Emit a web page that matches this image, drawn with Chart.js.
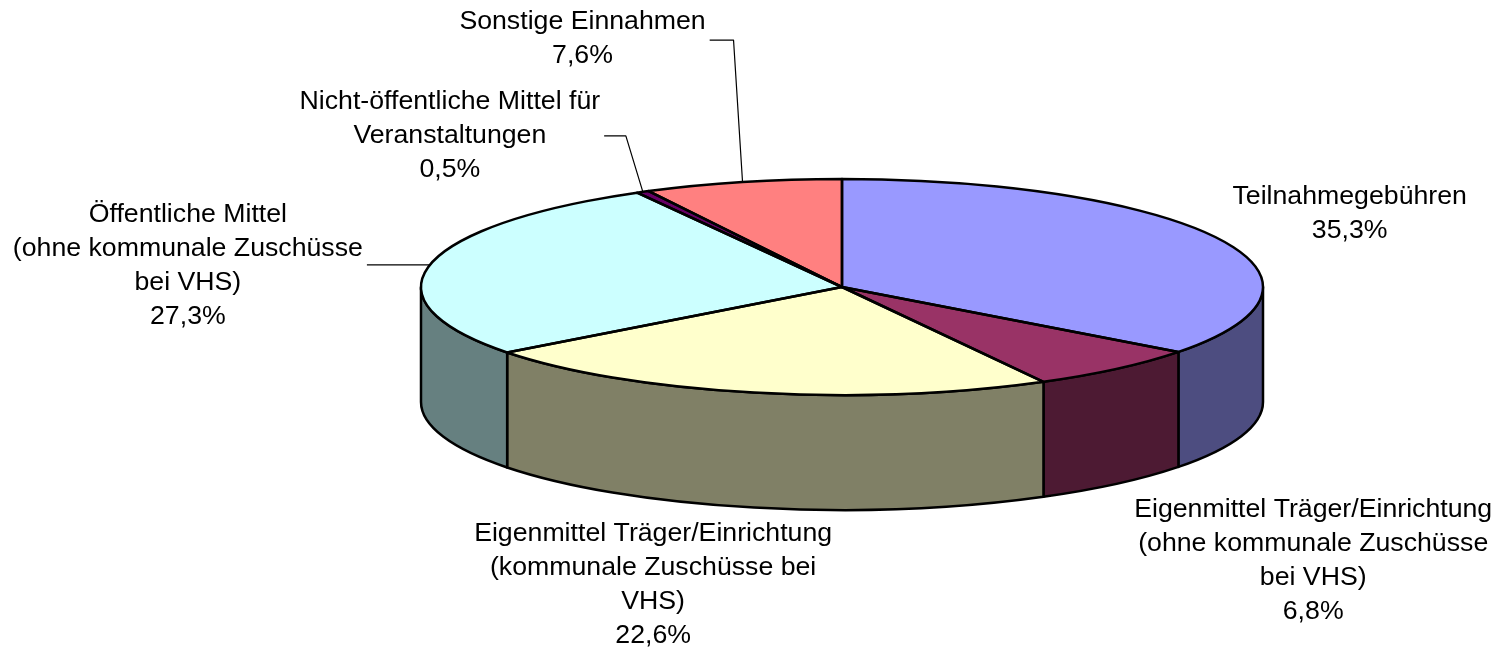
<!DOCTYPE html>
<html>
<head>
<meta charset="utf-8">
<script src="https://cdn.jsdelivr.net/npm/chart.js@4.4.1/dist/chart.umd.min.js"></script>
<style>
  html, body { margin: 0; padding: 0; background: #fff; }
  #wrap { width: 1496px; height: 649px; }
</style>
</head>
<body>
<div id="wrap"><canvas id="chart"></canvas></div>
<script>
const categories = [
  ['Teilnahmegebühren'],
  ['Eigenmittel Träger/Einrichtung', '(ohne kommunale Zuschüsse', 'bei VHS)'],
  ['Eigenmittel Träger/Einrichtung', '(kommunale Zuschüsse bei', 'VHS)'],
  ['Öffentliche Mittel', '(ohne kommunale Zuschüsse', 'bei VHS)'],
  ['Nicht-öffentliche Mittel für', 'Veranstaltungen'],
  ['Sonstige Einnahmen']
];
const shares = [35.3, 6.8, 22.6, 27.3, 0.5, 7.6];
const topColors = ['#9999FF', '#993366', '#FFFFCC', '#CCFFFF', '#660066', '#FF8080'];
const sideColors = ['#4D4D80', '#4D1A33', '#808066', '#668080', '#330033', '#804040'];

// 3d look: top face squashed, side wall depth in px
const tilt = 108 / 421;
const depth = 115;

// label placement relative to the slice edge point at mid angle
const labelLayout = [
  { dx: 131, dy: -25 },
  { dx: 196, dy: 192 },
  { dx: -101, dy: 192 },
  { dx: -242, dy: 1, leader: { ex: -4, ey: 0 } },
  { dx: -193, dy: -56, leader: { ex: -17, ey: -56 } },
  { dx: -160, dy: -143, leader: { ex: -9, ey: -142 } }
];

const fmt = v => v.toFixed(1).replace('.', ',') + '%';

function geo(arc) {
  return { cx: arc.x, cy: arc.y, rx: arc.outerRadius, ry: arc.outerRadius * tilt };
}

const pie3d = {
  id: 'pie3d',
  beforeDatasetsDraw(chart) {
    const ctx = chart.ctx;
    const arcs = chart.getDatasetMeta(0).data;
    ctx.save();
    ctx.lineWidth = 2.5;
    ctx.strokeStyle = '#000';
    ctx.lineJoin = 'round';
    arcs.forEach((arc, i) => {
      const { cx, cy, rx, ry } = geo(arc);
      const a = Math.max(arc.startAngle, 0);
      const b = Math.min(arc.endAngle, Math.PI);
      if (b <= a) return;
      ctx.beginPath();
      ctx.ellipse(cx, cy, rx, ry, 0, a, b);
      ctx.ellipse(cx, cy + depth, rx, ry, 0, b, a, true);
      ctx.closePath();
      ctx.fillStyle = sideColors[i];
      ctx.fill();
      ctx.stroke();
    });
    ctx.restore();
    const a0 = arcs[0];
    ctx.save();
    ctx.translate(a0.x, a0.y);
    ctx.scale(1, tilt);
    ctx.translate(-a0.x, -a0.y);
  },
  afterDatasetsDraw(chart) {
    const ctx = chart.ctx;
    ctx.restore();
    const arcs = chart.getDatasetMeta(0).data;
    ctx.save();
    ctx.lineWidth = 2.5;
    ctx.strokeStyle = '#000';
    ctx.lineJoin = 'round';
    arcs.forEach(arc => {
      const { cx, cy, rx, ry } = geo(arc);
      ctx.beginPath();
      ctx.moveTo(cx, cy);
      ctx.ellipse(cx, cy, rx, ry, 0, arc.startAngle, arc.endAngle);
      ctx.closePath();
      ctx.stroke();
    });

    // labels
    ctx.font = '26.7px "Liberation Sans", Arial, sans-serif';
    ctx.fillStyle = '#000';
    ctx.textAlign = 'center';
    ctx.textBaseline = 'middle';
    const lh = 34;
    arcs.forEach((arc, i) => {
      const { cx, cy, rx, ry } = geo(arc);
      const mid = (arc.startAngle + arc.endAngle) / 2;
      const ax = cx + rx * Math.cos(mid);
      const ay = cy + ry * Math.sin(mid);
      const lay = labelLayout[i];
      const lines = categories[i].concat([fmt(shares[i])]);
      const tx = ax + lay.dx;
      const ty = ay + lay.dy;
      const y0 = ty - (lines.length - 1) * lh / 2;
      lines.forEach((t, k) => ctx.fillText(t, tx, y0 + k * lh));
      if (lay.leader) {
        const w = Math.max(...lines.map(t => ctx.measureText(t).width));
        const ex = ax + lay.leader.ex;
        const ey = ay + lay.leader.ey;
        ctx.beginPath();
        ctx.lineWidth = 1.2;
        ctx.strokeStyle = '#000';
        ctx.moveTo(ax, ay);
        ctx.lineTo(ex, ey);
        ctx.lineTo(tx + w / 2 + 4, ey);
        ctx.stroke();
      }
    });
    ctx.restore();
  }
};

new Chart(document.getElementById('chart'), {
  type: 'pie',
  data: {
    labels: categories.map(c => c.join(' ')),
    datasets: [{
      data: shares,
      backgroundColor: topColors,
      borderWidth: 0,
      clip: false
    }]
  },
  options: {
    responsive: true,
    maintainAspectRatio: false,
    animation: false,
    events: [],
    radius: 421,
    layout: { padding: { left: 188, right: 0, top: 0, bottom: 75 } },
    plugins: {
      legend: { display: false },
      tooltip: { enabled: false }
    }
  },
  plugins: [pie3d]
});
</script>
</body>
</html>
